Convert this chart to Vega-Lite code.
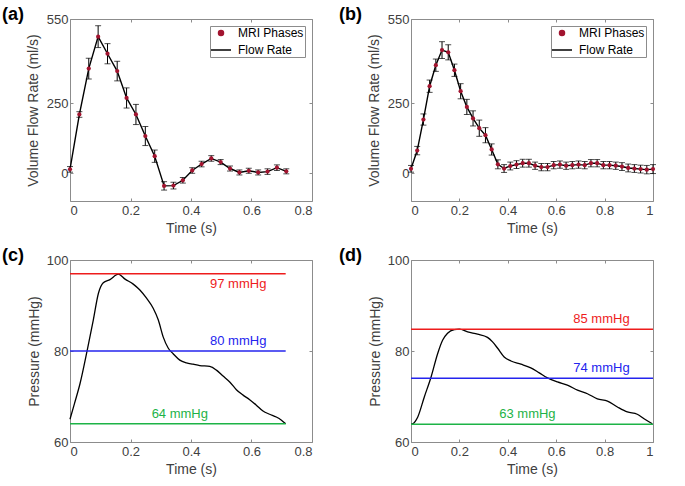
{
  "$schema": "https://vega.github.io/schema/vega-lite/v6.json",
  "background": "white",
  "padding": {"left": 1, "top": 5, "right": 0, "bottom": 0},
  "config": {
    "font": "Liberation Sans",
    "view": {"stroke": "#8c8c8c", "strokeWidth": 1},
    "axis": {
      "labelFont": "Liberation Sans", "titleFont": "Liberation Sans",
      "labelFontSize": 13, "titleFontSize": 14, "titleFontWeight": "normal",
      "labelColor": "#404040", "titleColor": "#404040",
      "domain": false, "grid": false, "tickColor": "#8c8c8c", "tickSize": -3, "tickWidth": 1
    },
    "title": {"font": "Liberation Sans", "fontSize": 18, "fontWeight": "bold", "color": "black", "anchor": "start", "frame": "group", "baseline": "middle", "offset": 5, "dy": 16},
    "legend": {
      "orient": "top-right", "offset": 7, "strokeColor": "#8c8c8c", "fillColor": "white",
      "padding": 1, "rowPadding": 5, "labelFont": "Liberation Sans", "labelFontSize": 12, "labelColor": "black",
      "symbolSize": 300, "symbolOffset": 4, "labelOffset": 11, "titlePadding": 0
    }
  },
  "datasets": {
    "flowA": [
      {"t":0,"v":13,"e":10},{"t":0.031,"v":209,"e":10},{"t":0.062,"v":373,"e":37},{"t":0.093,"v":487,"e":39},
      {"t":0.124,"v":426,"e":36},{"t":0.156,"v":364,"e":35},{"t":0.187,"v":268,"e":36},{"t":0.218,"v":209,"e":36},
      {"t":0.249,"v":132,"e":34},{"t":0.28,"v":60,"e":22},{"t":0.311,"v":-46,"e":15},{"t":0.342,"v":-45,"e":12},
      {"t":0.373,"v":-26,"e":10},{"t":0.404,"v":9,"e":10},{"t":0.435,"v":32,"e":10},{"t":0.467,"v":52,"e":10},
      {"t":0.498,"v":39,"e":9},{"t":0.529,"v":16,"e":9},{"t":0.56,"v":2,"e":9},{"t":0.591,"v":8,"e":9},
      {"t":0.622,"v":2,"e":9},{"t":0.653,"v":5,"e":10},{"t":0.684,"v":19,"e":10},{"t":0.715,"v":6,"e":9}
    ],
    "flowB": [
      {"t":0,"v":15,"e":12},{"t":0.0256,"v":80,"e":15},{"t":0.0513,"v":191,"e":20},{"t":0.0769,"v":310,"e":22},
      {"t":0.1026,"v":385,"e":22},{"t":0.1282,"v":439,"e":30},{"t":0.1538,"v":431,"e":27},{"t":0.1795,"v":367,"e":22},
      {"t":0.2051,"v":292,"e":27},{"t":0.2308,"v":236,"e":27},{"t":0.2564,"v":195,"e":27},{"t":0.2821,"v":160,"e":29},
      {"t":0.3077,"v":135,"e":27},{"t":0.3333,"v":84,"e":20},{"t":0.359,"v":31,"e":16},{"t":0.3846,"v":16,"e":14},
      {"t":0.4103,"v":25,"e":14},{"t":0.4359,"v":30,"e":14},{"t":0.4615,"v":35,"e":14},{"t":0.4872,"v":35,"e":14},
      {"t":0.5128,"v":26,"e":13},{"t":0.5385,"v":21,"e":13},{"t":0.5641,"v":21,"e":13},{"t":0.5897,"v":28,"e":13},
      {"t":0.6154,"v":30,"e":13},{"t":0.641,"v":26,"e":13},{"t":0.6667,"v":28,"e":13},{"t":0.6923,"v":30,"e":13},
      {"t":0.7179,"v":28,"e":13},{"t":0.7436,"v":35,"e":13},{"t":0.7692,"v":35,"e":13},{"t":0.7949,"v":28,"e":13},
      {"t":0.8205,"v":28,"e":13},{"t":0.8462,"v":26,"e":13},{"t":0.8718,"v":23,"e":14},{"t":0.8974,"v":18,"e":14},
      {"t":0.9231,"v":16,"e":14},{"t":0.9487,"v":14,"e":14},{"t":0.9744,"v":12,"e":15},{"t":1.0,"v":14,"e":16}
    ],
    "pressC": [
      {"t":0,"p":65.0},{"t":0.015,"p":68.5},{"t":0.033,"p":72.8},{"t":0.057,"p":80.2},{"t":0.077,"p":86.8},
      {"t":0.094,"p":92.7},{"t":0.11,"p":95.0},{"t":0.132,"p":95.7},{"t":0.16,"p":96.9},{"t":0.182,"p":95.8},
      {"t":0.209,"p":94.7},{"t":0.231,"p":93.4},{"t":0.253,"p":91.6},{"t":0.275,"p":89.4},{"t":0.292,"p":86.8},
      {"t":0.308,"p":83.1},{"t":0.325,"p":80.6},{"t":0.341,"p":79.4},{"t":0.363,"p":78.0},{"t":0.385,"p":77.4},
      {"t":0.407,"p":77.1},{"t":0.429,"p":76.8},{"t":0.462,"p":76.6},{"t":0.484,"p":75.8},{"t":0.506,"p":74.5},
      {"t":0.528,"p":73.2},{"t":0.55,"p":71.5},{"t":0.572,"p":70.3},{"t":0.594,"p":69.3},{"t":0.616,"p":68.1},
      {"t":0.638,"p":66.8},{"t":0.66,"p":66.1},{"t":0.682,"p":65.5},{"t":0.699,"p":64.8},{"t":0.713,"p":64.0}
    ],
    "pressD": [
      {"t":0,"p":63.9},{"t":0.007,"p":64.0},{"t":0.028,"p":65.5},{"t":0.055,"p":69.9},{"t":0.083,"p":74.3},
      {"t":0.11,"p":79.4},{"t":0.131,"p":82.4},{"t":0.151,"p":83.9},{"t":0.179,"p":84.7},{"t":0.2,"p":84.8},
      {"t":0.234,"p":84.2},{"t":0.275,"p":83.7},{"t":0.316,"p":83.0},{"t":0.337,"p":82.0},{"t":0.358,"p":80.6},
      {"t":0.385,"p":78.7},{"t":0.413,"p":77.8},{"t":0.454,"p":77.1},{"t":0.495,"p":76.3},{"t":0.53,"p":75.2},
      {"t":0.564,"p":74.1},{"t":0.605,"p":73.2},{"t":0.646,"p":72.5},{"t":0.688,"p":71.4},{"t":0.729,"p":70.6},
      {"t":0.77,"p":69.5},{"t":0.812,"p":69.0},{"t":0.853,"p":67.7},{"t":0.894,"p":66.6},{"t":0.935,"p":66.1},
      {"t":0.963,"p":65.1},{"t":0.997,"p":64.0}
    ],
    "levelsC": [
      {"name":"max","level":97,"t0":0,"t1":0.713,"tx":0.556,"label":"97 mmHg","side":"below"},
      {"name":"mean","level":80,"t0":0,"t1":0.713,"tx":0.556,"label":"80 mmHg","side":"above"},
      {"name":"min","level":64,"t0":0,"t1":0.713,"tx":0.363,"label":"64 mmHg","side":"above"}
    ],
    "levelsD": [
      {"name":"max","level":84.8,"t0":0,"t1":1,"tx":0.787,"label":"85 mmHg","side":"above"},
      {"name":"mean","level":74.0,"t0":0,"t1":1,"tx":0.787,"label":"74 mmHg","side":"above"},
      {"name":"min","level":63.9,"t0":0,"t1":1,"tx":0.481,"label":"63 mmHg","side":"above"}
    ]
  },
  "columns": 2,
  "spacing": {"column": 25, "row": 10},
  "resolve": {"scale": {"color": "independent"}, "legend": {"color": "independent"}},
  "concat": [
    {
      "width": 242, "height": 182,
      "title": {"text": "(a)", "dx": -68},
      "data": {"name": "flowA"},
      "resolve": {"axis": {"x": "independent", "y": "independent"}},
      "layer": [
        {
          "mark": {"type": "errorbar", "ticks": {"size": 6}, "color": "black", "thickness": 1},
          "encoding": {
            "x": {"field": "t", "type": "quantitative", "scale": {"domain": [0, 0.8], "nice": false},
                  "axis": {"orient": "bottom", "values": [0, 0.2, 0.4, 0.6, 0.8], "format": "~g", "title": "Time (s)", "labelPadding": 6, "titlePadding": 4}},
            "y": {"field": "v", "type": "quantitative", "scale": {"domain": [-100, 550], "nice": false, "zero": false},
                  "axis": {"orient": "left", "values": [0, 250, 550], "title": "Volume Flow Rate (ml/s)", "labelPadding": 5, "titlePadding": 6}},
            "yError": {"field": "e"}
          }
        },
        {
          "mark": {"type": "line", "strokeWidth": 1.4},
          "encoding": {
            "x": {"field": "t", "type": "quantitative", "axis": null},
            "y": {"field": "v", "type": "quantitative", "axis": null},
            "color": {"datum": "Flow Rate", "type": "nominal",
                      "scale": {"domain": ["MRI Phases", "Flow Rate"], "range": ["#A2142F", "black"]},
                      "legend": {"title": null, "encode": {"symbols": {"update": {
                        "shape": {"signal": "datum.value === 'Flow Rate' ? 'stroke' : 'circle'"},
                        "size": {"signal": "datum.value === 'Flow Rate' ? 400 : 25"},
                        "strokeWidth": {"value": 1.5},
                        "fill": {"signal": "datum.value === 'Flow Rate' ? 'transparent' : '#A2142F'"},
                        "stroke": {"signal": "datum.value === 'Flow Rate' ? 'black' : 'transparent'"},
                        "opacity": {"value": 1}}}}}}
          }
        },
        {
          "mark": {"type": "point", "filled": true, "size": 18, "opacity": 1},
          "encoding": {
            "x": {"field": "t", "type": "quantitative", "axis": null},
            "y": {"field": "v", "type": "quantitative", "axis": null},
            "color": {"datum": "MRI Phases", "type": "nominal"}
          }
        },
        {
          "mark": {"type": "point", "opacity": 0},
          "encoding": {
            "x": {"field": "t", "type": "quantitative", "axis": {"orient": "top", "values": [0, 0.2, 0.4, 0.6, 0.8], "labels": false, "title": null}},
            "y": {"field": "v", "type": "quantitative", "axis": {"orient": "right", "values": [0, 250, 550], "labels": false, "title": null}}
          }
        }
      ]
    },
    {
      "width": 242, "height": 182,
      "title": {"text": "(b)", "dx": -72},
      "data": {"name": "flowB"},
      "resolve": {"axis": {"x": "independent", "y": "independent"}},
      "layer": [
        {
          "mark": {"type": "errorbar", "ticks": {"size": 6}, "color": "black", "thickness": 1},
          "encoding": {
            "x": {"field": "t", "type": "quantitative", "scale": {"domain": [0, 1], "nice": false},
                  "axis": {"orient": "bottom", "values": [0, 0.2, 0.4, 0.6, 0.8, 1], "format": "~g", "title": "Time (s)", "labelPadding": 6, "titlePadding": 4}},
            "y": {"field": "v", "type": "quantitative", "scale": {"domain": [-100, 550], "nice": false, "zero": false},
                  "axis": {"orient": "left", "values": [0, 250, 550], "title": "Volume Flow Rate (ml/s)", "labelPadding": 5, "titlePadding": 6}},
            "yError": {"field": "e"}
          }
        },
        {
          "mark": {"type": "line", "strokeWidth": 1.4},
          "encoding": {
            "x": {"field": "t", "type": "quantitative", "axis": null},
            "y": {"field": "v", "type": "quantitative", "axis": null},
            "color": {"datum": "Flow Rate", "type": "nominal",
                      "scale": {"domain": ["MRI Phases", "Flow Rate"], "range": ["#A2142F", "black"]},
                      "legend": {"title": null, "encode": {"symbols": {"update": {
                        "shape": {"signal": "datum.value === 'Flow Rate' ? 'stroke' : 'circle'"},
                        "size": {"signal": "datum.value === 'Flow Rate' ? 400 : 25"},
                        "strokeWidth": {"value": 1.5},
                        "fill": {"signal": "datum.value === 'Flow Rate' ? 'transparent' : '#A2142F'"},
                        "stroke": {"signal": "datum.value === 'Flow Rate' ? 'black' : 'transparent'"},
                        "opacity": {"value": 1}}}}}}
          }
        },
        {
          "mark": {"type": "point", "filled": true, "size": 18, "opacity": 1},
          "encoding": {
            "x": {"field": "t", "type": "quantitative", "axis": null},
            "y": {"field": "v", "type": "quantitative", "axis": null},
            "color": {"datum": "MRI Phases", "type": "nominal"}
          }
        },
        {
          "mark": {"type": "point", "opacity": 0},
          "encoding": {
            "x": {"field": "t", "type": "quantitative", "axis": {"orient": "top", "values": [0, 0.2, 0.4, 0.6, 0.8, 1], "labels": false, "title": null}},
            "y": {"field": "v", "type": "quantitative", "axis": {"orient": "right", "values": [0, 250, 550], "labels": false, "title": null}}
          }
        }
      ]
    },
    {
      "width": 242, "height": 182,
      "title": {"text": "(c)", "dx": -68},
      "resolve": {"axis": {"x": "independent", "y": "independent"}},
      "layer": [
        {
          "data": {"name": "pressC"},
          "mark": {"type": "line", "color": "black", "strokeWidth": 1.3, "interpolate": "monotone"},
          "encoding": {
            "x": {"field": "t", "type": "quantitative", "scale": {"domain": [0, 0.8], "nice": false},
                  "axis": {"orient": "bottom", "values": [0, 0.2, 0.4, 0.6, 0.8], "format": "~g", "title": "Time (s)", "labelPadding": 6, "titlePadding": 4}},
            "y": {"field": "p", "type": "quantitative", "scale": {"domain": [60, 100], "nice": false, "zero": false},
                  "axis": {"orient": "left", "values": [60, 80, 100], "title": "Pressure (mmHg)", "labelPadding": 5, "titlePadding": 5}}
          }
        },
        {
          "data": {"name": "levelsC"},
          "mark": {"type": "rule", "strokeWidth": 1.5},
          "encoding": {
            "x": {"field": "t0", "type": "quantitative", "axis": null},
            "x2": {"field": "t1"},
            "y": {"field": "level", "type": "quantitative", "axis": null},
            "color": {"field": "name", "type": "nominal", "scale": {"domain": ["max", "mean", "min"], "range": ["#ee1c1c", "#2424ee", "#1db347"]}, "legend": null}
          }
        },
        {
          "data": {"name": "levelsC"},
          "transform": [{"filter": "datum.side === 'above'"}],
          "mark": {"type": "text", "fontSize": 13, "baseline": "middle", "align": "center", "dy": -10},
          "encoding": {
            "x": {"field": "tx", "type": "quantitative", "axis": null},
            "y": {"field": "level", "type": "quantitative", "axis": null},
            "text": {"field": "label"},
            "color": {"field": "name", "type": "nominal", "legend": null}
          }
        },
        {
          "data": {"name": "levelsC"},
          "transform": [{"filter": "datum.side === 'below'"}],
          "mark": {"type": "text", "fontSize": 13, "baseline": "middle", "align": "center", "dy": 10},
          "encoding": {
            "x": {"field": "tx", "type": "quantitative", "axis": null},
            "y": {"field": "level", "type": "quantitative", "axis": null},
            "text": {"field": "label"},
            "color": {"field": "name", "type": "nominal", "legend": null}
          }
        },
        {
          "data": {"name": "pressC"},
          "mark": {"type": "point", "opacity": 0},
          "encoding": {
            "x": {"field": "t", "type": "quantitative", "axis": {"orient": "top", "values": [0, 0.2, 0.4, 0.6, 0.8], "labels": false, "title": null}},
            "y": {"field": "p", "type": "quantitative", "axis": {"orient": "right", "values": [60, 80, 100], "labels": false, "title": null}}
          }
        }
      ]
    },
    {
      "width": 242, "height": 182,
      "title": {"text": "(d)", "dx": -72},
      "resolve": {"axis": {"x": "independent", "y": "independent"}},
      "layer": [
        {
          "data": {"name": "pressD"},
          "mark": {"type": "line", "color": "black", "strokeWidth": 1.3, "interpolate": "monotone"},
          "encoding": {
            "x": {"field": "t", "type": "quantitative", "scale": {"domain": [0, 1], "nice": false},
                  "axis": {"orient": "bottom", "values": [0, 0.2, 0.4, 0.6, 0.8, 1], "format": "~g", "title": "Time (s)", "labelPadding": 6, "titlePadding": 4}},
            "y": {"field": "p", "type": "quantitative", "scale": {"domain": [60, 100], "nice": false, "zero": false},
                  "axis": {"orient": "left", "values": [60, 80, 100], "title": "Pressure (mmHg)", "labelPadding": 5, "titlePadding": 5}}
          }
        },
        {
          "data": {"name": "levelsD"},
          "mark": {"type": "rule", "strokeWidth": 1.5},
          "encoding": {
            "x": {"field": "t0", "type": "quantitative", "axis": null},
            "x2": {"field": "t1"},
            "y": {"field": "level", "type": "quantitative", "axis": null},
            "color": {"field": "name", "type": "nominal", "scale": {"domain": ["max", "mean", "min"], "range": ["#ee1c1c", "#2424ee", "#1db347"]}, "legend": null}
          }
        },
        {
          "data": {"name": "levelsD"},
          "transform": [{"filter": "datum.side === 'above'"}],
          "mark": {"type": "text", "fontSize": 13, "baseline": "middle", "align": "center", "dy": -10},
          "encoding": {
            "x": {"field": "tx", "type": "quantitative", "axis": null},
            "y": {"field": "level", "type": "quantitative", "axis": null},
            "text": {"field": "label"},
            "color": {"field": "name", "type": "nominal", "legend": null}
          }
        },
        {
          "data": {"name": "pressD"},
          "mark": {"type": "point", "opacity": 0},
          "encoding": {
            "x": {"field": "t", "type": "quantitative", "axis": {"orient": "top", "values": [0, 0.2, 0.4, 0.6, 0.8, 1], "labels": false, "title": null}},
            "y": {"field": "p", "type": "quantitative", "axis": {"orient": "right", "values": [60, 80, 100], "labels": false, "title": null}}
          }
        }
      ]
    }
  ]
}
